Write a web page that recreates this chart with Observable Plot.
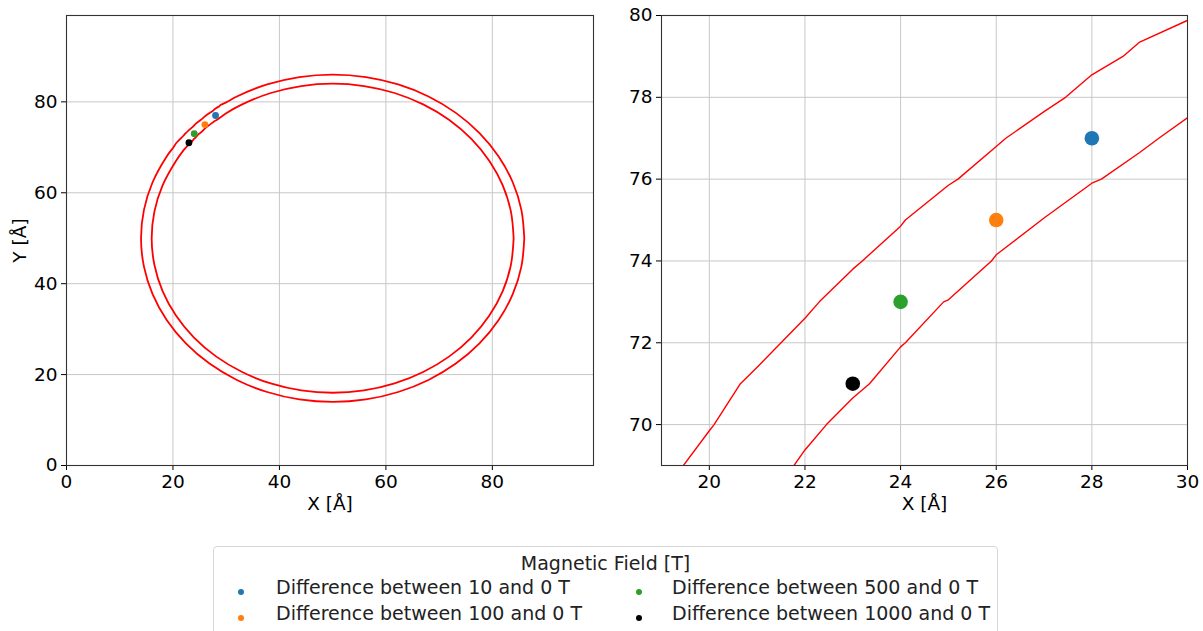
<!DOCTYPE html>
<html>
<head>
<meta charset="utf-8">
<script src="https://cdn.jsdelivr.net/npm/d3@7"></script>
<script src="https://cdn.jsdelivr.net/npm/@observablehq/plot@0.6"></script>
<style>
  html, body { margin: 0; padding: 0; background: #fff; overflow: hidden; }
  body { width: 1203px; height: 631px; position: relative; font-family: "DejaVu Sans", sans-serif; }
  #left { position: absolute; left: 0; top: 0; }
  #right { position: absolute; left: 600px; top: 0; }
  #legend { position: absolute; left: 213px; top: 546px; width: 785px; height: 110px;
            border: 1px solid #d6d6d6; border-radius: 4px; box-sizing: border-box; color: #222; }
  #legend .title { position: absolute; left: 0; width: 100%; top: 5px; text-align: center; font-size: 19px; }
  #legend .item { position: absolute; font-size: 19px; white-space: nowrap; }
  #legend .dot { position: absolute; width: 6px; height: 6px; border-radius: 50%; }
</style>
</head>
<body>
<div id="left"></div>
<div id="right"></div>
<div id="legend"></div>
<script>
// ---- data ----
// outer contour ring (counter-clockwise from the +x side), Å
const outerRing = [
  [86, 50], [85.45, 56.25], [83.83, 62.31], [81.18, 68], [77.58, 73.14], [73.14, 77.58],
  [68, 81.18], [62.31, 83.83], [56.25, 85.45], [50, 86], [43.75, 85.45], [37.69, 83.83], [32, 81.18],
  [30, 79.88], [29, 79.35], [28.65, 79], [28, 78.55], [27.45, 78], [27, 77.65], [26.2, 77], [26, 76.8],
  [25.2, 76], [25, 75.85], [24.1, 75], [24, 74.85], [23.2, 74], [23, 73.8], [22.3, 73], [22, 72.6],
  [21.5, 72], [21, 71.4], [20.65, 71], [20.1, 70], [20, 69.85],
  [18.82, 68], [16.17, 62.31], [14.55, 56.25], [14, 50], [14.55, 43.75], [16.17, 37.69], [18.82, 32],
  [22.42, 26.86], [26.86, 22.42], [32, 18.82], [37.69, 16.17], [43.75, 14.55], [50, 14], [56.25, 14.55],
  [62.31, 16.17], [68, 18.82], [73.14, 22.42], [77.58, 26.86], [81.18, 32], [83.83, 37.69], [85.45, 43.75],
  [86, 50]
];
// inner contour ring
const innerRing = [
  [84, 50], [83.48, 55.9], [81.95, 61.63], [79.44, 67], [76.05, 71.85], [71.85, 76.05],
  [67, 79.44], [61.63, 81.95], [55.9, 83.48], [50, 84], [44.1, 83.48], [38.37, 81.95], [33, 79.44],
  [30, 77.5], [29.4, 77], [29, 76.65], [28.2, 76], [28, 75.9], [27, 75.05], [26, 74.15], [25.9, 74],
  [25, 73.05], [24.9, 73], [24.1, 72], [24, 71.9], [23.35, 71], [23, 70.65], [22.45, 70], [22, 69.38],
  [20.56, 67], [18.05, 61.63], [16.52, 55.9], [16, 50], [16.52, 44.1], [18.05, 38.37], [20.56, 33],
  [23.95, 28.15], [28.15, 23.95], [33, 20.56], [38.37, 18.05], [44.1, 16.52], [50, 16], [55.9, 16.52],
  [61.63, 18.05], [67, 20.56], [71.85, 23.95], [76.05, 28.15], [79.44, 33], [81.95, 38.37], [83.48, 44.1],
  [84, 50]
];
const seriesLabels = ["Difference between 10 and 0 T", "Difference between 100 and 0 T",
                      "Difference between 500 and 0 T", "Difference between 1000 and 0 T"];
const pointX = [28, 26, 24, 23];
const pointY = [77, 75, 73, 71];
const seriesColors = ["#1f77b4", "#ff7f0e", "#2ca02c", "#000000"];
const leftTicksX = [0, 20, 40, 60, 80];
const leftTicksY = [0, 20, 40, 60, 80];
const rightTicksX = [20, 22, 24, 26, 28, 30];
const rightTicksY = [70, 72, 74, 76, 78, 80];
const legendTitle = "Magnetic Field [T]";

// ---- build ----
const points = seriesLabels.map((s, i) => ({series: s, x: pointX[i], y: pointY[i]}));
const rings = [
  ...outerRing.map(([x, y]) => ({ring: "outer", x, y})),
  ...innerRing.map(([x, y]) => ({ring: "inner", x, y}))
];
const colorScale = {domain: seriesLabels, range: seriesColors};
const style = {fontFamily: "DejaVu Sans, sans-serif", fontSize: "18.5px", color: "#000", background: "#fff"};
const gridStroke = "#c8c8c8";

const left = Plot.plot({
  width: 600, height: 520,
  marginLeft: 66, marginRight: 7, marginTop: 15, marginBottom: 55,
  style,
  x: {domain: [0, 99]},
  y: {domain: [0, 99]},
  color: colorScale,
  marks: [
    Plot.gridX(leftTicksX, {stroke: gridStroke, strokeOpacity: 1, strokeWidth: 1}),
    Plot.gridY(leftTicksY, {stroke: gridStroke, strokeOpacity: 1, strokeWidth: 1}),
    Plot.line(rings, {x: "x", y: "y", z: "ring", stroke: "red", strokeWidth: 1.8, curve: "catmull-rom"}),
    Plot.dot(points, {x: "x", y: "y", fill: "series", r: 3.4}),
    Plot.axisX(leftTicksX, {tickSize: 5, label: "X [Å]", labelAnchor: "center", labelOffset: 44, labelArrow: "none"}),
    Plot.axisY(leftTicksY, {tickSize: 5, label: "Y [Å]", labelAnchor: "center", labelOffset: 54, labelArrow: "none"}),
    Plot.frame({stroke: "#333", strokeWidth: 1.1})
  ]
});
document.getElementById("left").appendChild(left);

const right = Plot.plot({
  width: 603, height: 520,
  marginLeft: 61, marginRight: 16, marginTop: 15, marginBottom: 55,
  style,
  x: {domain: [19, 30]},
  y: {domain: [69, 80]},
  color: colorScale,
  marks: [
    Plot.gridX(rightTicksX, {stroke: gridStroke, strokeOpacity: 1, strokeWidth: 1}),
    Plot.gridY(rightTicksY, {stroke: gridStroke, strokeOpacity: 1, strokeWidth: 1}),
    Plot.line(rings, {x: "x", y: "y", z: "ring", stroke: "red", strokeWidth: 1.4, clip: true}),
    Plot.dot(points, {x: "x", y: "y", fill: "series", r: 7.3}),
    Plot.axisX(rightTicksX, {tickSize: 5, label: "X [Å]", labelAnchor: "center", labelOffset: 44, labelArrow: "none"}),
    Plot.axisY(rightTicksY, {tickSize: 5, label: null}),
    Plot.frame({stroke: "#333", strokeWidth: 1.1})
  ]
});
document.getElementById("right").appendChild(right);

// legend
const legend = document.getElementById("legend");
const t = document.createElement("div");
t.className = "title";
t.textContent = legendTitle;
legend.appendChild(t);
const cols = [{dot: 24, text: 62}, {dot: 422, text: 458}];
seriesLabels.forEach((s, i) => {
  const col = cols[Math.floor(i / 2)];
  const row = i % 2;
  const top = 29 + row * 26;
  const d = document.createElement("div");
  d.className = "dot";
  d.style.left = (col.dot) + "px";
  d.style.top = (top + 13) + "px";
  d.style.background = seriesColors[i];
  legend.appendChild(d);
  const it = document.createElement("div");
  it.className = "item";
  it.style.left = col.text + "px";
  it.style.top = top + "px";
  it.textContent = s;
  legend.appendChild(it);
});
</script>
</body>
</html>
